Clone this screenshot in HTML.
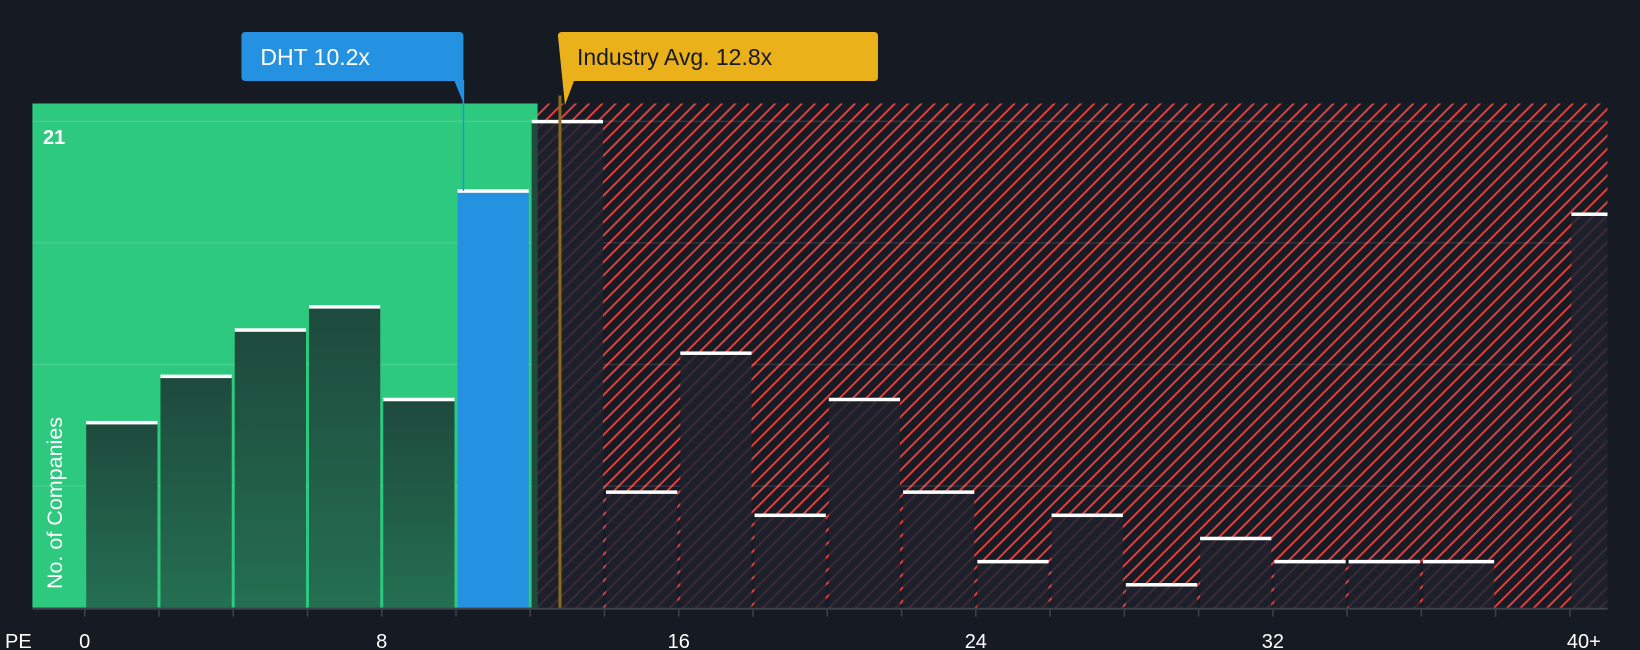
<!DOCTYPE html>
<html><head><meta charset="utf-8"><style>
html,body{margin:0;padding:0;background:#151a23;}
svg{display:block;font-family:"Liberation Sans",sans-serif;}
</style></head><body>
<svg id="chart" width="1640" height="650" viewBox="0 0 1640 650">
<defs>
<pattern id="hatch" patternUnits="userSpaceOnUse" width="9.4" height="9.4" patternTransform="rotate(45)">
<rect width="9.4" height="9.4" fill="#161b24"/><rect x="0" y="0" width="2" height="9.4" fill="#e03e3e"/>
</pattern>
<pattern id="hatchDim" patternUnits="userSpaceOnUse" width="9.4" height="9.4" patternTransform="rotate(45)">
<rect width="9.4" height="9.4" fill="#1d202b"/><rect x="0" y="0" width="2" height="9.4" fill="#3a2a33"/>
</pattern>
<linearGradient id="gbar" x1="0" y1="0" x2="0" y2="1"><stop offset="0" stop-color="#1e4a3d"/><stop offset="1" stop-color="#246f52"/></linearGradient>
</defs>
<g id="plot"></g>
</svg>
<script>
const binStarts = [0,2,4,6,8,10,12,14,16,18,20,22,24,26,28,30,32,34,36,38,40];
const counts = [8,10,12,13,9,18,21,5,11,4,9,5,2,4,1,3,2,2,2,0,17];
const xTicks = [0,8,16,24,32];
const xTickLabels = ["0","8","16","24","32"];
const companyPE = 10.2;
const industryPE = 12.8;
const yMaxLabel = 21;
const fairBoundary = 12.2;

const NS="http://www.w3.org/2000/svg";
const g=document.getElementById('plot');
const X0=84.7, UX=37.13, Y0=607.7, UY=23.16, LEFT=32.4, TOP=103.5, RIGHT=1607.5;
const x=v=>X0+v*UX, y=v=>Y0-v*UY;
function mk(t,a,p){const e=document.createElementNS(NS,t);for(const k in a)e.setAttribute(k,a[k]);(p||g).appendChild(e);return e;}

const greenBg=mk('rect',{x:LEFT,y:TOP,width:x(fairBoundary)-LEFT,height:Y0-TOP,fill:'#2dc97e'});


const redBg=mk('rect',{x:x(fairBoundary),y:TOP,width:RIGHT-x(fairBoundary),height:Y0-TOP,fill:'url(#hatch)'});



for(let i=1;i<=4;i++){const gl=mk('line',{x1:LEFT,x2:RIGHT,y1:y(yMaxLabel*i/4),y2:y(yMaxLabel*i/4),stroke:'rgba(255,255,255,0.12)','stroke-width':1.5});

}

binStarts.forEach((b,i)=>{
  const c=counts[i]; if(!c) return;
  const last=(i===binStarts.length-1);
  const x1=x(b)+1.5, x2=last?RIGHT:x(b+2)-1.5;
  const inGreen=x2<=x(fairBoundary)+1;
  let fill = b<=companyPE && companyPE<b+2 ? '#2492e0' : (inGreen?'url(#gbar)':'url(#hatchDim)');
  const r=mk('rect',{x:x1,y:y(c),width:x2-x1,height:Y0-y(c),fill:fill});
  
  
  if(!inGreen && x1<x(fairBoundary)){
    const r2=mk('rect',{x:x1,y:y(c),width:x(fairBoundary)-x1,height:Y0-y(c),fill:'#1f4a3c'});
    
    
  }
  const cap=mk('rect',{x:x1,y:y(c)-1.5,width:x2-x1,height:3.5,fill:'#ffffff'});
  
  
});

const ax=mk('line',{x1:LEFT,x2:RIGHT,y1:Y0+1,y2:Y0+1,stroke:'#3d434d','stroke-width':2});


for(let v=0;v<=40;v+=2){const t=mk('line',{x1:x(v),x2:x(v),y1:Y0+2,y2:Y0+9,stroke:'#3d434d','stroke-width':1.5});

}
xTicks.forEach((v,i)=>{const t=mk('text',{x:x(v),y:648,fill:'#fff','font-size':20,'text-anchor':'middle'});t.textContent=xTickLabels[i];

});
const l40=mk('text',{x:x(40)+14,y:648,fill:'#fff','font-size':20,'text-anchor':'middle'});l40.textContent='40+';


const pe=mk('text',{x:5,y:648,fill:'#fff','font-size':20});pe.textContent='PE';


const y21=mk('text',{x:43,y:144,fill:'#fff','font-size':20,'font-weight':'bold'});y21.textContent=String(yMaxLabel);


const yt=mk('text',{x:0,y:0,fill:'#fff','font-size':21.5,'text-anchor':'middle',transform:'translate(62,503) rotate(-90)'});yt.textContent='No. of Companies';



const il=mk('rect',{x:x(industryPE)-1.5,y:TOP-8,width:3,height:Y0-TOP+8,fill:'#8a6a1f'});


const cl=mk('line',{x1:x(companyPE),x2:x(companyPE),y1:80,y2:y(counts[5]),stroke:'#2492e0','stroke-width':1.5});



const cx=x(companyPE);
const cb=mk('path',{d:`M${cx-222},36 q0,-4 4,-4 h214 q4,0 4,4 v67 l-9,-22 h-209 q-4,0 -4,-4 z`,fill:'#2492e0'});


const ct=mk('text',{x:cx-203,y:65,fill:'#fff','font-size':23});ct.textContent='DHT 10.2x';


const ix=x(industryPE);
const ib=mk('path',{d:`M${ix-2},36 q0,-4 4,-4 h312 q4,0 4,4 v41 q0,4 -4,4 h-300 l-9,24 z`,fill:'#ebb11a'});


const it=mk('text',{x:ix+17,y:65,fill:'#151a23','font-size':23});it.textContent='Industry Avg. 12.8x';


</script>
</body></html>
